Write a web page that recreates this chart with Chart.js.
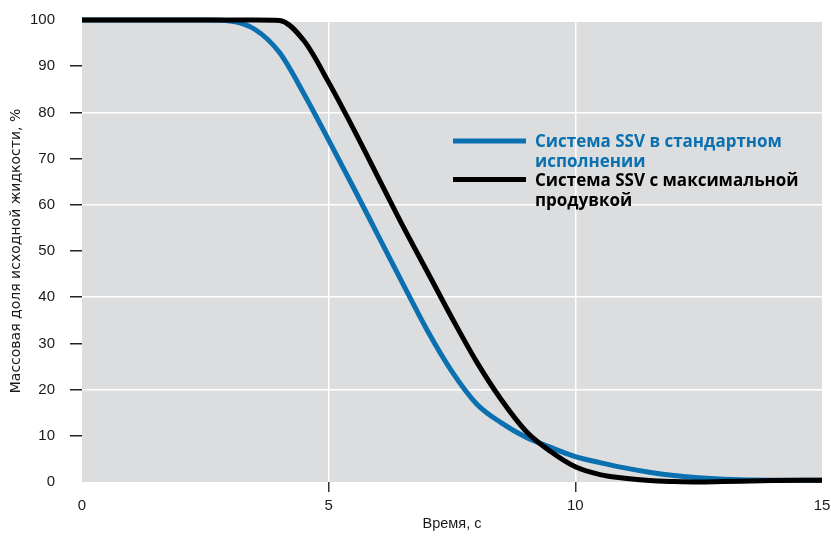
<!DOCTYPE html>
<html>
<head>
<meta charset="utf-8">
<script src="https://cdn.jsdelivr.net/npm/chart.js@4.4.1/dist/chart.umd.min.js"></script>
<style>
    html, body { margin: 0; padding: 0; background: #ffffff; }
    #wrap { width: 831px; height: 536px; }
</style>
</head>
<body>
<div id="wrap"><canvas id="chart" width="831" height="536"></canvas></div>
<script>
// time, s
const times = [0, 1, 2, 2.5, 3, 3.5, 4, 4.5, 5, 5.5, 6, 6.5, 7, 7.5, 8, 8.5, 9, 9.5, 10, 10.5, 11, 11.5, 12, 12.5, 13, 14, 15];
// Система SSV в стандартном исполнении
const standardSeries = [100, 100, 100, 100, 99.8, 98, 93, 84, 74, 63.8, 53.4, 43, 32.8, 23.9, 16.9, 12.8, 9.7, 7.5, 5.5, 4.2, 3.05, 2.1, 1.4, 0.9, 0.6, 0.4, 0.4];
// Система SSV с максимальной продувкой
const maxPurgeSeries = [100, 100, 100, 100, 100, 100, 99.9, 95.5, 86.5, 76.5, 66, 55.5, 45.5, 35.5, 26, 17.8, 11, 6.6, 3.3, 1.6, 0.8, 0.3, 0.1, 0, 0.1, 0.3, 0.4];
const yTicks = [0, 10, 20, 30, 40, 50, 60, 70, 80, 90, 100];
const xTicks = [0, 5, 10, 15];
const legendLabels = [
    ['Система SSV в стандартном', 'исполнении'],
    ['Система SSV с максимальной', 'продувкой']
];

const blue = '#0a70b0';
const black = '#000000';
const textColor = '#1a1a1a';

function toPoints(values) {
    return times.map((t, i) => ({ x: t, y: values[i] }));
}

const plotBackground = {
    id: 'plotBackground',
    beforeDraw(chart) {
        const { ctx, chartArea: a } = chart;
        ctx.save();
        ctx.fillStyle = '#dcdddf';
        ctx.fillRect(a.left, a.top + 2, a.right - a.left, a.bottom - a.top - 2);
        ctx.restore();
    }
};

// legend drawn inside the plot, two-line labels
const innerLegend = {
    id: 'innerLegend',
    afterDatasetsDraw(chart) {
        const { ctx, chartArea: a } = chart;
        const colors = [blue, black];
        const lineY = [a.top + 121, a.top + 159.5];
        ctx.save();
        const family = '"Open Sans", "Liberation Sans", sans-serif';
        ctx.font = 'bold 15px ' + family;
        // size the font so the first line is about as wide as in the original
        const size = 15 * 247 / ctx.measureText(legendLabels[0][0]).width;
        ctx.font = 'bold ' + size.toFixed(2) + 'px ' + family;
        ctx.textBaseline = 'alphabetic';
        ctx.textAlign = 'left';
        colors.forEach((c, i) => {
            ctx.strokeStyle = c;
            ctx.lineWidth = 5;
            ctx.beginPath();
            ctx.moveTo(a.left + 371, lineY[i]);
            ctx.lineTo(a.left + 444, lineY[i]);
            ctx.stroke();
            ctx.fillStyle = c;
            legendLabels[i].forEach((txt, j) => {
                ctx.fillText(txt, a.left + 453, lineY[i] + 6 + j * 20);
            });
        });
        ctx.restore();
    }
};

new Chart(document.getElementById('chart'), {
    type: 'line',
    data: {
        datasets: [
            {
                label: 'Система SSV с максимальной продувкой',
                data: toPoints(maxPurgeSeries),
                borderColor: black,
                borderWidth: 5,
                pointRadius: 0,
                cubicInterpolationMode: 'monotone',
                clip: false,
                order: 0
            },
            {
                label: 'Система SSV в стандартном исполнении',
                data: toPoints(standardSeries),
                borderColor: blue,
                borderWidth: 5,
                pointRadius: 0,
                cubicInterpolationMode: 'monotone',
                clip: false,
                order: 1
            }
        ]
    },
    options: {
        responsive: false,
        animation: false,
        layout: { padding: { top: 20, right: 9, left: 0, bottom: 0 } },
        plugins: {
            legend: { display: false },
            tooltip: { enabled: false }
        },
        scales: {
            x: {
                type: 'linear',
                min: 0,
                max: 15,
                afterBuildTicks: axis => { axis.ticks = xTicks.map(v => ({ value: v })); },
                afterFit: axis => {
                    axis.height = 54;
                    axis.paddingLeft = 0;
                    axis.paddingRight = 0;
                },
                border: { display: false },
                grid: {
                    color: ctx => (ctx.tick && (ctx.tick.value === 5 || ctx.tick.value === 10)) ? '#ffffff' : 'rgba(0,0,0,0)',
                    tickColor: ctx => (ctx.tick && (ctx.tick.value === 5 || ctx.tick.value === 10)) ? '#333333' : 'rgba(0,0,0,0)',
                    lineWidth: 1.5,
                    tickWidth: 1.5,
                    tickLength: 10
                },
                ticks: {
                    color: textColor,
                    padding: 5,
                    maxRotation: 0,
                    font: { family: '"Liberation Sans", Arial, sans-serif', size: 15 }
                },
                title: {
                    display: true,
                    text: 'Время, с',
                    color: textColor,
                    padding: { top: 0, bottom: 3 },
                    font: { family: '"Liberation Sans", Arial, sans-serif', size: 14.5 }
                }
            },
            y: {
                min: 0,
                max: 100,
                afterBuildTicks: axis => { axis.ticks = yTicks.map(v => ({ value: v })); },
                afterFit: axis => {
                    axis.width = 82;
                    axis.paddingTop = 0;
                    axis.paddingBottom = 0;
                },
                border: { display: false },
                grid: {
                    color: ctx => (ctx.tick && ctx.tick.value % 20 === 0 && ctx.tick.value > 0 && ctx.tick.value < 100) ? '#ffffff' : 'rgba(0,0,0,0)',
                    tickColor: ctx => (ctx.tick && ctx.tick.value > 0 && ctx.tick.value < 100) ? '#222222' : 'rgba(0,0,0,0)',
                    lineWidth: 1.5,
                    tickWidth: 1.5,
                    tickLength: 12
                },
                ticks: {
                    color: textColor,
                    padding: 15,
                    font: { family: '"Liberation Sans", Arial, sans-serif', size: 15 }
                },
                title: {
                    display: true,
                    text: 'Массовая доля исходной жидкости, %',
                    color: textColor,
                    padding: { top: 8, bottom: 0 },
                    font: { family: '"DejaVu Sans", sans-serif', size: 14 }
                }
            }
        }
    },
    plugins: [plotBackground, innerLegend]
});
</script>
</body>
</html>
